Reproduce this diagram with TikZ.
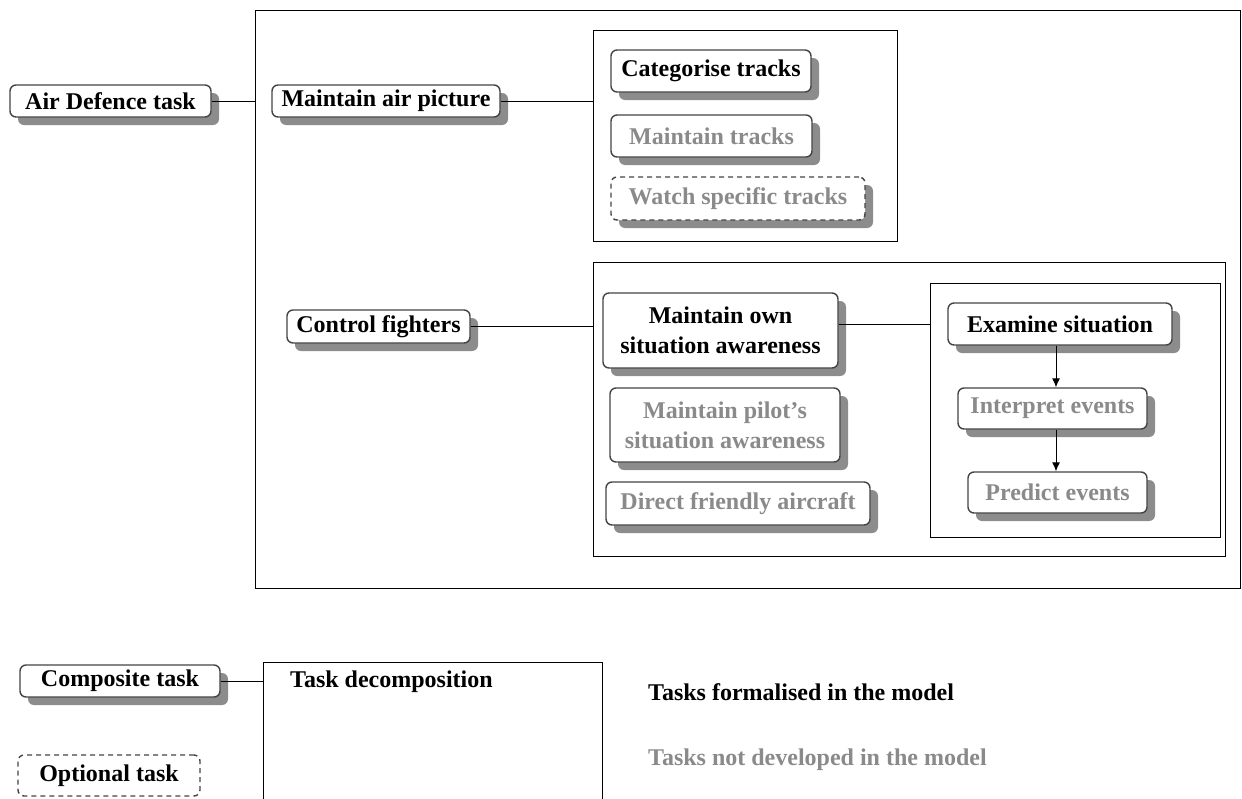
\documentclass[tikz,border=0pt]{standalone}
\usepackage{fontspec}
\setmainfont{Liberation Serif}
\usetikzlibrary{shadows, arrows.meta, positioning}
\definecolor{edgegray}{HTML}{444444}
\definecolor{undevgray}{HTML}{8A8A8A}
\definecolor{shadegray}{HTML}{8C8C8C}

\begin{document}
\begin{tikzpicture}[
		x=1pt, y=-1pt,
		font=\fontsize{24}{30}\selectfont\bfseries,
		task/.style={
				draw=edgegray,
				line width=1.4pt,
				fill=white,
				rounded corners=6pt,
				align=center,
				inner sep=0pt,
				drop shadow={shadow xshift=8pt, shadow yshift=-8pt,
						fill=shadegray, opacity=1}
			},
		undev/.style={task, text=undevgray}, % tasks not developed
		optional/.style={dashed, dash pattern=on 5pt off 4pt},
		group/.style={draw, line width=1pt, inner sep=0pt},
		link/.style={line width=1pt},
		flow/.style={link, -{Latex[length=9pt, width=8pt]}}
	]
	% canvas of the reference
	\useasboundingbox (0,0) rectangle (1242,798);
	\clip (0,0) rectangle (1242,798);

	% main decomposition
	\node[group, minimum width=985pt, minimum height=578pt] (outer) at (747.5,299) {};
	\node[task, minimum width=201pt, minimum height=32pt] (airdef) at (110.5,101) {Air Defence task};
	\draw[link] (airdef.east) -- (airdef.east -| outer.west);

	\node[task, minimum width=228pt, minimum height=32pt] (airpic) at (386,101) {Maintain air picture};
	\node[group, minimum width=304pt, minimum height=211pt] (trackbox) at (745,135.5) {};
	\draw[link] (airpic.east) -- (airpic.east -| trackbox.west);

	\node[task, minimum width=200pt, minimum height=42pt] (cattr) at (711,71) {Categorise tracks};
	\node[undev, minimum width=201pt, minimum height=42pt] (mtntr) at (711.5,136) {Maintain tracks};
	\node[undev, optional, minimum width=254pt, minimum height=43pt] (watchtr) at (738,198.5) {Watch specific tracks};

	% fighters branch
	\node[task, minimum width=183pt, minimum height=33pt] (ctrlf) at (378.5,326.5) {Control fighters};
	\node[group, minimum width=632pt, minimum height=294pt] (fightbox) at (909,409) {};
	\draw[link] (ctrlf.east) -- (ctrlf.east -| fightbox.west);

	\node[task, minimum width=235pt, minimum height=75pt] (ownsa) at (720.5,330.5) {Maintain own\\situation awareness};
	\node[undev, minimum width=230pt, minimum height=74pt] (pilotsa) at (725,425) {Maintain pilot’s\\situation awareness};
	\node[undev, minimum width=264pt, minimum height=43pt] (direct) at (738,503.5) {Direct friendly aircraft};

	\node[group, minimum width=290pt, minimum height=254pt] (sitbox) at (1075,410) {};
	\draw[link] (ownsa.east |- 0,324) -- (sitbox.west |- 0,324);

	\node[task, minimum width=224pt, minimum height=42pt] (exam) at (1060,324) {Examine situation};
	\node[undev, minimum width=189pt, minimum height=41pt] (interp) at (1052.5,408.5) {Interpret events};
	\node[undev, minimum width=179pt, minimum height=41pt] (predict) at (1057.5,492.5) {Predict events};
	\draw[flow] (exam.south -| 1056,0) -- (interp.north -| 1056,0);
	\draw[flow] (interp.south -| 1056,0) -- (predict.north -| 1056,0);

	% legend
	\node[task, minimum width=200pt, minimum height=32pt] (comp) at (120,681) {Composite task};
	\node[group, minimum width=339pt, minimum height=238pt] (decomp) at (432.5,781) {};
	\draw[link] (comp.east) -- (comp.east -| decomp.west);
	\node[anchor=west, inner sep=0pt] (decomplbl) at (290,682) {Task decomposition};

	\node[draw=edgegray, line width=1.4pt, optional, rounded corners=6pt,
		minimum width=182pt, minimum height=41pt, inner sep=0pt] (opt) at (109,775.5) {Optional task};

	\node[anchor=west, inner sep=0pt] (formal) at (648,692) {Tasks formalised in the model};
	\node[anchor=west, inner sep=0pt, text=undevgray] (notdev) at (648,760) {Tasks not developed in the model};
\end{tikzpicture}
\end{document}
